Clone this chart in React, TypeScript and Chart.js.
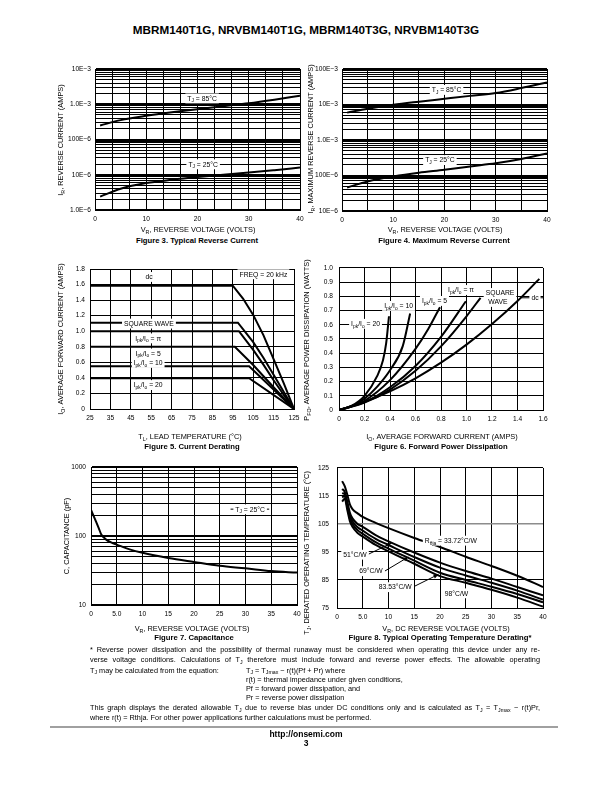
import React, { useEffect, useRef } from "react";
import { Chart, registerables } from "chart.js";

Chart.register(...registerables);

const FONT = "'Liberation Sans', Arial, Helvetica, sans-serif";

// ================= Figure 3 : Typical Reverse Current =================
const fig3Voltage = [1, 5, 10, 15, 20, 25, 30, 35, 40];
const fig3Current85C = [2.5e-4, 3.55e-4, 4.7e-4, 5.9e-4, 7.2e-4, 8.8e-4, 1.07e-3, 1.35e-3, 1.74e-3];
const fig3Current25C = [2.4e-6, 4.0e-6, 5.8e-6, 7.2e-6, 8.6e-6, 1.0e-5, 1.15e-5, 1.35e-5, 1.6e-5];
const fig3YLabelValues = [1e-6, 1e-5, 1e-4, 1e-3, 1e-2];
const fig3YLabels = ["1.0E\u22126", "10E\u22126", "100E\u22126", "1.0E\u22123", "10E\u22123"];
const fig3XLabelValues = [0, 10, 20, 30, 40];
const fig3XLabels = ["0", "10", "20", "30", "40"];

// ================= Figure 4 : Maximum Reverse Current =================
const fig4Voltage = [1, 5, 10, 15, 20, 25, 30, 35, 40];
const fig4Current85C = [5.9e-3, 7.6e-3, 9.8e-3, 1.2e-2, 1.45e-2, 1.75e-2, 2.1e-2, 2.9e-2, 4.2e-2];
const fig4Current25C = [4.6e-5, 6.8e-5, 9.4e-5, 1.2e-4, 1.45e-4, 1.8e-4, 2.2e-4, 2.9e-4, 4.2e-4];
const fig4YLabelValues = [1e-5, 1e-4, 1e-3, 1e-2, 1e-1];
const fig4YLabels = ["10E\u22126", "100E\u22126", "1.0E\u22123", "10E\u22123", "100E\u22123"];
const fig4XLabelValues = [0, 10, 20, 30, 40];
const fig4XLabels = ["0", "10", "20", "30", "40"];

// ================= Figure 5 : Current Derating =================
const fig5DcTemp = [25, 95, 100, 105, 110, 115, 120, 125];
const fig5DcCurrent = [1.585, 1.585, 1.42, 1.21, 0.95, 0.64, 0.33, 0];
const fig5SquareTemp = [25, 97.5, 105, 110, 115, 120, 125];
const fig5SquareCurrent = [1.11, 1.11, 0.86, 0.66, 0.44, 0.22, 0];
const fig5PiTemp = [25, 98, 105, 110, 115, 120, 125];
const fig5PiCurrent = [1.0, 1.0, 0.76, 0.57, 0.37, 0.18, 0];
const fig5Ratio5Temp = [25, 96, 105, 115, 125];
const fig5Ratio5Current = [0.8, 0.8, 0.565, 0.28, 0];
const fig5Ratio10Temp = [25, 103, 125];
const fig5Ratio10Current = [0.55, 0.55, 0];
const fig5Ratio20Temp = [25, 103, 125];
const fig5Ratio20Current = [0.395, 0.395, 0];
const fig5XLabelValues = [25, 35, 45, 55, 65, 75, 85, 95, 105, 115, 125];
const fig5XLabels = ["25", "35", "45", "55", "65", "75", "85", "95", "105", "115", "125"];
const fig5YLabelValues = [0, 0.2, 0.4, 0.6, 0.8, 1.0, 1.2, 1.4, 1.6, 1.8];
const fig5YLabels = ["0", "0.2", "0.4", "0.6", "0.8", "1.0", "1.2", "1.4", "1.6", "1.8"];

// ================= Figure 6 : Forward Power Dissipation =================
const fig6Ratio20Current = [0, 0.1, 0.2, 0.3, 0.345, 0.37, 0.392];
const fig6Ratio20Power = [0, 0.03, 0.1, 0.24, 0.35, 0.47, 0.66];
const fig6Ratio10Current = [0, 0.1, 0.2, 0.3, 0.4, 0.5, 0.558];
const fig6Ratio10Power = [0, 0.025, 0.08, 0.165, 0.28, 0.45, 0.68];
const fig6Ratio5Current = [0, 0.2, 0.4, 0.6, 0.7, 0.792];
const fig6Ratio5Power = [0, 0.065, 0.21, 0.43, 0.57, 0.724];
const fig6PiCurrent = [0, 0.2, 0.4, 0.6, 0.8, 0.995];
const fig6PiPower = [0, 0.055, 0.16, 0.31, 0.515, 0.766];
const fig6SquareCurrent = [0, 0.2, 0.4, 0.6, 0.8, 1.0, 1.11];
const fig6SquarePower = [0, 0.052, 0.144, 0.276, 0.448, 0.66, 0.79];
const fig6DcCurrent = [0, 0.2, 0.4, 0.6, 0.8, 1.0, 1.2, 1.4, 1.571];
const fig6DcPower = [0, 0.057, 0.131, 0.223, 0.333, 0.46, 0.605, 0.767, 0.923];
const fig6XLabelValues = [0, 0.2, 0.4, 0.6, 0.8, 1.0, 1.2, 1.4, 1.6];
const fig6XLabels = ["0", "0.2", "0.4", "0.6", "0.8", "1.0", "1.2", "1.4", "1.6"];
const fig6YLabelValues = [0, 0.1, 0.2, 0.3, 0.4, 0.5, 0.6, 0.7, 0.8, 0.9, 1.0];
const fig6YLabels = ["0", "0.1", "0.2", "0.3", "0.4", "0.5", "0.6", "0.7", "0.8", "0.9", "1.0"];

// ================= Figure 7 : Capacitance =================
const fig7Voltage = [0, 0.5, 1, 1.5, 2, 2.5, 3, 4, 5, 7.5, 10, 15, 20, 25, 30, 35, 40];
const fig7Capacitance = [240, 195, 160, 130, 105, 95, 88, 80, 75, 64, 57, 48, 42, 37, 34, 31, 29.5];
const fig7XLabelValues = [0, 5, 10, 15, 20, 25, 30, 35, 40];
const fig7XLabels = ["0", "5.0", "10", "15", "20", "25", "30", "35", "40"];
const fig7YLabelValues = [10, 100, 1000];
const fig7YLabels = ["10", "100", "1000"];

// ================= Figure 8 : Operating Temperature Derating =================
const fig8Voltage = [1, 1.5, 2, 2.5, 3, 4, 5, 7.5, 10, 15, 20, 25, 30, 35, 40];
const fig8Temp33_72 = [120.3, 118.5, 115.5, 112, 110.3, 108.8, 107.5, 105.4, 103.5, 100, 96.8, 93.3, 90, 86.5, 82.5];
const fig8Temp51 = [117.5, 116.5, 113, 109, 107, 105, 104, 101, 98.8, 94.8, 91.2, 88.2, 85.5, 82.5, 79.5];
const fig8Temp69 = [116, 115.5, 112, 108, 106, 103.8, 102.6, 99.7, 97.5, 93.2, 89.4, 86.6, 84, 81.2, 78];
const fig8Temp83_53 = [114.5, 115, 111, 107, 105, 102.8, 101.5, 98.5, 96.2, 91.9, 87.6, 85, 82.6, 80, 77];
const fig8Temp98 = [113, 114, 110, 106, 104, 101.8, 100.5, 97.5, 95.2, 90.8, 86.4, 84, 81.5, 78.7, 75.5];
const fig8XLabelValues = [0, 5, 10, 15, 20, 25, 30, 35, 40];
const fig8XLabels = ["0", "5.0", "10", "15", "20", "25", "30", "35", "40"];
const fig8YLabelValues = [75, 85, 95, 105, 115, 125];
const fig8YLabels = ["75", "85", "95", "105", "115", "125"];

// ================= helpers =================
type AxisSpec = {
  type: "linear" | "logarithmic";
  min: number;
  max: number;
  grid: number[];
  labelValues: number[];
  labels: string[];
  major?: number[];
  gray?: number[];
  pad: number;
};
type Label = { text: string; x: number; y: number; size?: number; box?: boolean };
type Seg = { x1: number; y1: number; x2: number; y2: number; arrow?: boolean };
type PageText = { text: string; x: number; y: number; rotate?: boolean; size?: number };
type Spec = {
  box: { left: number; top: number; width: number; height: number };
  plot: { left: number; top: number; right: number; bottom: number };
  x: AxisSpec;
  y: AxisSpec;
  series: { x: number[]; y: number[] }[];
  smooth: boolean;
  labels: Label[];
  segs: Seg[];
  titles: PageText[];
};

const near = (a: number, b: number) => Math.abs(a - b) <= Math.abs(b) * 1e-6 + 1e-9;

function logGrid(min: number, max: number) {
  const out: number[] = [];
  let d = min;
  while (d < max * 0.999) {
    for (let k = 1; k <= 9; k++) out.push(d * k);
    d *= 10;
  }
  out.push(max);
  return out;
}
function stepGrid(min: number, max: number, step: number) {
  const out: number[] = [];
  const n = Math.round((max - min) / step);
  for (let i = 0; i <= n; i++) out.push(+(min + i * step).toFixed(6));
  return out;
}

type Run = { t: string; sub: boolean };
function parseRich(s: string): Run[] {
  const runs: Run[] = [];
  const re = /_\{([^}]*)\}/g;
  let last = 0;
  let m: RegExpExecArray | null;
  while ((m = re.exec(s))) {
    if (m.index > last) runs.push({ t: s.slice(last, m.index), sub: false });
    runs.push({ t: m[1], sub: true });
    last = re.lastIndex;
  }
  if (last < s.length) runs.push({ t: s.slice(last), sub: false });
  return runs;
}
function measureRuns(ctx: CanvasRenderingContext2D, runs: Run[], size: number) {
  let w = 0;
  for (const r of runs) {
    ctx.font = `${r.sub ? size * 0.72 : size}px ${FONT}`;
    w += ctx.measureText(r.t).width;
  }
  return w;
}
function drawRuns(ctx: CanvasRenderingContext2D, runs: Run[], x: number, y: number, size: number) {
  const w = measureRuns(ctx, runs, size);
  let cx = x - w / 2;
  ctx.textAlign = "left";
  ctx.textBaseline = "alphabetic";
  const base = y + size * 0.36;
  for (const r of runs) {
    const fs = r.sub ? size * 0.72 : size;
    ctx.font = `${fs}px ${FONT}`;
    ctx.fillText(r.t, cx, r.sub ? base + size * 0.25 : base);
    cx += ctx.measureText(r.t).width;
  }
  return w;
}

function axisOptions(a: AxisSpec, horizontal: boolean, size: number) {
  const isMajor = (v: number) => (a.major || []).some((m) => near(v, m));
  const isGray = (v: number) => (a.gray || []).some((m) => near(v, m));
  return {
    type: a.type,
    min: a.min,
    max: a.max,
    position: horizontal ? "bottom" : "left",
    afterBuildTicks: (s: any) => {
      s.ticks = a.grid.map((v) => ({ value: v }));
    },
    afterFit: (s: any) => {
      if (horizontal) s.height = size;
      else s.width = size;
    },
    ticks: {
      autoSkip: false,
      maxRotation: 0,
      minRotation: 0,
      padding: a.pad,
      color: "#000",
      font: { family: FONT, size: 6.6 },
      callback: (v: number) => {
        const i = a.labelValues.findIndex((m) => near(v, m));
        return i >= 0 ? a.labels[i] : "";
      },
    },
    grid: {
      drawTicks: false,
      color: (c: any) => (c.tick && isGray(c.tick.value) ? "#8c8c8c" : "#000"),
      lineWidth: (c: any) => (c.tick && isMajor(c.tick.value) ? 2 : c.tick && isGray(c.tick.value) ? 1.5 : 1),
    },
    border: { display: true, color: "#000", width: 1 },
  };
}

function overlay(spec: Spec) {
  return {
    id: "overlay",
    afterDatasetsDraw(chart: any) {
      const ctx: CanvasRenderingContext2D = chart.ctx;
      const xs = chart.scales.x;
      const ys = chart.scales.y;
      ctx.save();
      ctx.strokeStyle = "#000";
      ctx.fillStyle = "#000";
      ctx.lineWidth = 1;
      for (const s of spec.segs) {
        const x1 = xs.getPixelForValue(s.x1), y1 = ys.getPixelForValue(s.y1);
        const x2 = xs.getPixelForValue(s.x2), y2 = ys.getPixelForValue(s.y2);
        ctx.beginPath();
        ctx.moveTo(x1, y1);
        ctx.lineTo(x2, y2);
        ctx.stroke();
        if (s.arrow) {
          const a = Math.atan2(y2 - y1, x2 - x1);
          const L = 5, W = 2;
          ctx.beginPath();
          ctx.moveTo(x2, y2);
          ctx.lineTo(x2 - L * Math.cos(a) + W * Math.sin(a), y2 - L * Math.sin(a) - W * Math.cos(a));
          ctx.lineTo(x2 - L * Math.cos(a) - W * Math.sin(a), y2 - L * Math.sin(a) + W * Math.cos(a));
          ctx.closePath();
          ctx.fill();
        }
      }
      for (const l of spec.labels) {
        const size = l.size ?? 6.8;
        const px = xs.getPixelForValue(l.x), py = ys.getPixelForValue(l.y);
        const runs = parseRich(l.text);
        const w = measureRuns(ctx, runs, size);
        if (l.box !== false) {
          ctx.fillStyle = "#fff";
          ctx.fillRect(px - w / 2 - 2, py - size * 0.7, w + 4, size * 1.45);
        }
        ctx.fillStyle = "#000";
        drawRuns(ctx, runs, px, py, size);
      }
      ctx.restore();
    },
    afterDraw(chart: any) {
      const ctx: CanvasRenderingContext2D = chart.ctx;
      ctx.save();
      ctx.fillStyle = "#000";
      for (const t of spec.titles) {
        const x = t.x - spec.box.left, y = t.y - spec.box.top;
        const size = t.size ?? 7.4;
        const runs = parseRich(t.text);
        if (t.rotate) {
          ctx.save();
          ctx.translate(x, y);
          ctx.rotate(-Math.PI / 2);
          drawRuns(ctx, runs, 0, 0, size);
          ctx.restore();
        } else drawRuns(ctx, runs, x, y, size);
      }
      ctx.restore();
    },
  };
}

function buildConfig(spec: Spec): any {
  const { box, plot } = spec;
  const L = plot.left - box.left;
  const T = plot.top - box.top;
  const R = box.left + box.width - plot.right;
  const B = box.top + box.height - plot.bottom;
  return {
    type: "line",
    data: {
      datasets: spec.series.map((s) => ({
        data: s.x.map((x, i) => ({ x, y: s.y[i] })),
        borderColor: "#000",
        borderWidth: 2,
        pointRadius: 0,
        fill: false,
        tension: 0,
        cubicInterpolationMode: spec.smooth ? "monotone" : "default",
      })),
    },
    options: {
      responsive: false,
      maintainAspectRatio: false,
      animation: false,
      devicePixelRatio: 1,
      events: [],
      layout: { padding: { left: 0, top: T, right: R, bottom: 0 } },
      plugins: { legend: { display: false }, tooltip: { enabled: false }, title: { display: false } },
      scales: { x: axisOptions(spec.x, true, B), y: axisOptions(spec.y, false, L) },
    },
    plugins: [overlay(spec)],
  };
}

// ================= chart specs =================
const fig3Spec: Spec = {
  box: { left: 50, top: 58, width: 262, height: 178 },
  plot: { left: 95, top: 69, right: 300, bottom: 210 },
  x: { type: "linear", min: 0, max: 40, grid: stepGrid(0, 40, 10 / 3), labelValues: fig3XLabelValues, labels: fig3XLabels, pad: 5 },
  y: { type: "logarithmic", min: 1e-6, max: 1e-2, grid: logGrid(1e-6, 1e-2), labelValues: fig3YLabelValues, labels: fig3YLabels, major: fig3YLabelValues, pad: 4 },
  series: [
    { x: fig3Voltage, y: fig3Current85C },
    { x: fig3Voltage, y: fig3Current25C },
  ],
  smooth: true,
  labels: [
    { text: "T_{J} = 85°C", x: 20.9, y: 1.48e-3 },
    { text: "T_{J} = 25°C", x: 21.1, y: 2.0e-5 },
  ],
  segs: [],
  titles: [
    { text: "I_{R}, REVERSE CURRENT (AMPS)", x: 60, y: 140, rotate: true },
    { text: "V_{R}, REVERSE VOLTAGE (VOLTS)", x: 198, y: 229 },
  ],
};

const fig4Spec: Spec = {
  box: { left: 298, top: 58, width: 262, height: 178 },
  plot: { left: 342, top: 69, right: 547, bottom: 211 },
  x: { type: "linear", min: 0, max: 40, grid: stepGrid(0, 40, 5), labelValues: fig4XLabelValues, labels: fig4XLabels, pad: 5 },
  y: { type: "logarithmic", min: 1e-5, max: 1e-1, grid: logGrid(1e-5, 1e-1), labelValues: fig4YLabelValues, labels: fig4YLabels, major: fig4YLabelValues, pad: 4 },
  series: [
    { x: fig4Voltage, y: fig4Current85C },
    { x: fig4Voltage, y: fig4Current25C },
  ],
  smooth: true,
  labels: [
    { text: "T_{J} = 85°C", x: 20.4, y: 2.6e-2 },
    { text: "T_{J} = 25°C", x: 19.1, y: 2.75e-4 },
  ],
  segs: [],
  titles: [
    { text: "I_{R}, MAXIMUM REVERSE CURRENT (AMPS)", x: 310, y: 139, rotate: true },
    { text: "V_{R}, REVERSE VOLTAGE (VOLTS)", x: 445, y: 229 },
  ],
};

const fig5Spec: Spec = {
  box: { left: 50, top: 258, width: 256, height: 186 },
  plot: { left: 90, top: 269, right: 294, bottom: 409 },
  x: { type: "linear", min: 25, max: 125, grid: stepGrid(25, 125, 10), labelValues: fig5XLabelValues, labels: fig5XLabels, pad: 5 },
  y: { type: "linear", min: 0, max: 1.8, grid: stepGrid(0, 1.8, 0.2), labelValues: fig5YLabelValues, labels: fig5YLabels, pad: 5 },
  series: [
    { x: fig5DcTemp, y: fig5DcCurrent },
    { x: fig5SquareTemp, y: fig5SquareCurrent },
    { x: fig5PiTemp, y: fig5PiCurrent },
    { x: fig5Ratio5Temp, y: fig5Ratio5Current },
    { x: fig5Ratio10Temp, y: fig5Ratio10Current },
    { x: fig5Ratio20Temp, y: fig5Ratio20Current },
  ],
  smooth: false,
  labels: [
    { text: "dc", x: 54, y: 1.7 },
    { text: "FREQ = 20 kHz", x: 110, y: 1.735 },
    { text: "SQUARE WAVE", x: 53.9, y: 1.1 },
    { text: "I_{pk}/I_{o} = π", x: 53.5, y: 0.91 },
    { text: "I_{pk}/I_{o} = 5", x: 53.5, y: 0.716 },
    { text: "I_{pk}/I_{o} = 10", x: 53.5, y: 0.595 },
    { text: "I_{pk}/I_{o} = 20", x: 53.5, y: 0.31 },
  ],
  segs: [],
  titles: [
    { text: "I_{O}, AVERAGE FORWARD CURRENT (AMPS)", x: 60, y: 339, rotate: true },
    { text: "T_{L}, LEAD TEMPERATURE (°C)", x: 190, y: 436 },
  ],
};

const fig6Spec: Spec = {
  box: { left: 298, top: 258, width: 258, height: 186 },
  plot: { left: 339, top: 267, right: 543, bottom: 410 },
  x: { type: "linear", min: 0, max: 1.6, grid: stepGrid(0, 1.6, 0.2), labelValues: fig6XLabelValues, labels: fig6XLabels, pad: 5 },
  y: { type: "linear", min: 0, max: 1.0, grid: stepGrid(0, 1.0, 0.1), labelValues: fig6YLabelValues, labels: fig6YLabels, pad: 6 },
  series: [
    { x: fig6Ratio20Current, y: fig6Ratio20Power },
    { x: fig6Ratio10Current, y: fig6Ratio10Power },
    { x: fig6Ratio5Current, y: fig6Ratio5Power },
    { x: fig6PiCurrent, y: fig6PiPower },
    { x: fig6SquareCurrent, y: fig6SquarePower },
    { x: fig6DcCurrent, y: fig6DcPower },
  ],
  smooth: true,
  labels: [
    { text: "I_{pk}/I_{o} = 20", x: 0.208, y: 0.608 },
    { text: "I_{pk}/I_{o} = 10", x: 0.467, y: 0.734 },
    { text: "I_{pk}/I_{o} = 5", x: 0.749, y: 0.769 },
    { text: "I_{pk}/I_{o} = π", x: 0.957, y: 0.846 },
    { text: "SQUARE", x: 1.263, y: 0.825 },
    { text: "WAVE", x: 1.247, y: 0.762 },
    { text: "dc", x: 1.537, y: 0.79 },
  ],
  segs: [{ x1: 1.43, y1: 0.79, x2: 1.6, y2: 0.79 }],
  titles: [
    { text: "P_{FO}, AVERAGE POWER DISSIPATION (WATTS)", x: 306, y: 340, rotate: true },
    { text: "I_{O}, AVERAGE FORWARD CURRENT (AMPS)", x: 442, y: 436 },
  ],
};

const fig7Spec: Spec = {
  box: { left: 50, top: 456, width: 260, height: 178 },
  plot: { left: 91, top: 467, right: 297, bottom: 605 },
  x: { type: "linear", min: 0, max: 40, grid: stepGrid(0, 40, 5), labelValues: fig7XLabelValues, labels: fig7XLabels, pad: 5 },
  y: { type: "logarithmic", min: 10, max: 1000, grid: logGrid(10, 1000), labelValues: fig7YLabelValues, labels: fig7YLabels, major: fig7YLabelValues, pad: 5 },
  series: [{ x: fig7Voltage, y: fig7Capacitance }],
  smooth: true,
  labels: [{ text: "T_{J} = 25°C", x: 30.9, y: 245 }],
  segs: [{ x1: 27.1, y1: 245, x2: 34.6, y2: 245 }],
  titles: [
    { text: "C, CAPACITANCE (pF)", x: 66, y: 536, rotate: true },
    { text: "V_{R}, REVERSE VOLTAGE (VOLTS)", x: 192, y: 628 },
  ],
};

const fig8Spec: Spec = {
  box: { left: 298, top: 456, width: 258, height: 196 },
  plot: { left: 337, top: 467, right: 543, bottom: 608 },
  x: { type: "linear", min: 0, max: 40, grid: stepGrid(0, 40, 5), labelValues: fig8XLabelValues, labels: fig8XLabels, pad: 5 },
  y: { type: "linear", min: 75, max: 125, grid: stepGrid(75, 125, 10), labelValues: fig8YLabelValues, labels: fig8YLabels, gray: [105], pad: 8 },
  series: [
    { x: fig8Voltage, y: fig8Temp33_72 },
    { x: fig8Voltage, y: fig8Temp51 },
    { x: fig8Voltage, y: fig8Temp69 },
    { x: fig8Voltage, y: fig8Temp83_53 },
    { x: fig8Voltage, y: fig8Temp98 },
  ],
  smooth: true,
  labels: [
    { text: "R_{θja} = 33.72°C/W", x: 22.1, y: 99.1 },
    { text: "51°C/W", x: 3.5, y: 94.1 },
    { text: "69°C/W", x: 6.6, y: 88.2 },
    { text: "83.53°C/W", x: 11.3, y: 82.5 },
    { text: "98°C/W", x: 23.2, y: 80.3 },
  ],
  segs: [
    { x1: 6.1, y1: 94.2, x2: 10.6, y2: 98.2, arrow: true },
    { x1: 9.3, y1: 88.2, x2: 13.85, y2: 93.2, arrow: true },
    { x1: 15.1, y1: 82.8, x2: 19.7, y2: 87.0, arrow: true },
  ],
  titles: [
    { text: "T_{J}, DERATED OPERATING TEMPERATURE (°C)", x: 306, y: 553, rotate: true },
    { text: "V_{R}, DC REVERSE VOLTAGE (VOLTS)", x: 446, y: 628 },
  ],
};

// ================= React components =================
function ChartBox({ spec }: { spec: Spec }) {
  const ref = useRef<HTMLCanvasElement>(null);
  useEffect(() => {
    const chart = new Chart(ref.current as HTMLCanvasElement, buildConfig(spec));
    return () => chart.destroy();
  }, []);
  const b = spec.box;
  return (
    <canvas
      ref={ref}
      width={b.width}
      height={b.height}
      style={{ position: "absolute", left: b.left, top: b.top, width: b.width, height: b.height }}
    />
  );
}

const subStyle: React.CSSProperties = { fontSize: "72%", verticalAlign: "baseline", position: "relative", top: "0.3em" };
const S = ({ children }: { children: React.ReactNode }) => <sub style={subStyle}>{children}</sub>;

function Txt({
  x, y, size, bold, center, width, children,
}: { x: number; y: number; size: number; bold?: boolean; center?: boolean; width?: number; children: React.ReactNode }) {
  const style: React.CSSProperties = {
    position: "absolute",
    left: x,
    top: y - size * 0.6,
    fontSize: size,
    lineHeight: `${size * 1.2}px`,
    fontFamily: FONT,
    fontWeight: bold ? "bold" : "normal",
    color: "#000",
    whiteSpace: width ? "normal" : "nowrap",
    transform: center ? "translateX(-50%)" : undefined,
    width: width,
    textAlign: width ? "justify" : undefined,
    textAlignLast: width ? "justify" : undefined,
  } as React.CSSProperties;
  return <div style={style}>{children}</div>;
}

export default function App() {
  const fn = 7.3;
  const cap = 7.7;
  return (
    <div style={{ position: "absolute", left: 0, top: 0, width: 612, height: 792, background: "#fff", overflow: "hidden" }}>
      <Txt x={306} y={30} size={11.7} bold center>
        MBRM140T1G, NRVBM140T1G, MBRM140T3G, NRVBM140T3G
      </Txt>

      <ChartBox spec={fig3Spec} />
      <ChartBox spec={fig4Spec} />
      <ChartBox spec={fig5Spec} />
      <ChartBox spec={fig6Spec} />
      <ChartBox spec={fig7Spec} />
      <ChartBox spec={fig8Spec} />

      <Txt x={197} y={241} size={cap} bold center>Figure 3. Typical Reverse Current</Txt>
      <Txt x={444} y={241} size={cap} bold center>Figure 4. Maximum Reverse Current</Txt>
      <Txt x={192} y={447} size={cap} bold center>Figure 5. Current Derating</Txt>
      <Txt x={441} y={447} size={cap} bold center>Figure 6. Forward Power Dissipation</Txt>
      <Txt x={194} y={638} size={cap} bold center>Figure 7. Capacitance</Txt>
      <Txt x={440} y={638} size={cap} bold center>Figure 8. Typical Operating Temperature Derating*</Txt>

      <Txt x={90} y={650} size={fn} width={450}>
        * Reverse power dissipation and the possibility of thermal runaway must be considered when operating this device under any re-
      </Txt>
      <Txt x={90} y={660.5} size={fn} width={450}>
        verse voltage conditions. Calculations of T<S>J</S> therefore must include forward and reverse power effects. The allowable operating
      </Txt>
      <Txt x={90} y={671} size={fn}>
        T<S>J</S> may be calculated from the equation:
      </Txt>
      <Txt x={246} y={671} size={fn}>
        T<S>J</S> = T<S>Jmax</S> − r(t)(Pf + Pr) where
      </Txt>
      <Txt x={246} y={680} size={fn}>r(t) = thermal impedance under given conditions,</Txt>
      <Txt x={246} y={689} size={fn}>Pf = forward power dissipation, and</Txt>
      <Txt x={246} y={698} size={fn}>Pr = reverse power dissipation</Txt>
      <Txt x={90} y={708.5} size={fn} width={450}>
        This graph displays the derated allowable T<S>J</S> due to reverse bias under DC conditions only and is calculated as T<S>J</S> = T<S>Jmax</S> − r(t)Pr,
      </Txt>
      <Txt x={90} y={718} size={fn}>
        where r(t) = Rthja. For other power applications further calculations must be performed.
      </Txt>

      <div style={{ position: "absolute", left: 50, top: 726, width: 508, height: 2, background: "#a0a0a0" }} />
      <Txt x={306} y={734} size={8.5} bold center>http://onsemi.com</Txt>
      <Txt x={306} y={743} size={8.5} bold center>3</Txt>
    </div>
  );
}
